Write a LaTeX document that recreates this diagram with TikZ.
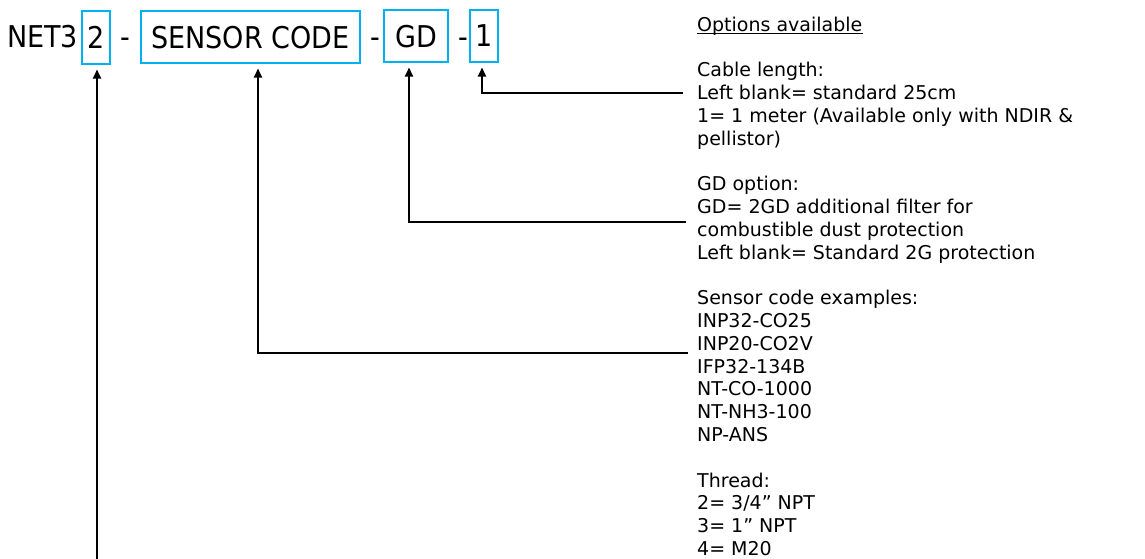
\documentclass[tikz,border=0pt]{standalone}
\usepackage{fontspec}
\setmainfont{DejaVu Sans}
\newfontfamily\bigfont{DejaVu Sans Condensed}
\usetikzlibrary{arrows.meta}
\definecolor{boxblue}{HTML}{00B0F0}
\tikzset{
  codebox/.style={draw=boxblue, line width=2pt, inner sep=0pt, font=\bigfont\fontsize{30}{34}\selectfont, text depth=0pt},
  bigtext/.style={inner sep=0pt, font=\bigfont\fontsize{30}{34}\selectfont, anchor=base west},
  dashtext/.style={inner sep=0pt, font=\bigfont\fontsize{30}{34}\selectfont, anchor=base},
  info/.style={inner sep=0pt, anchor=base west, font=\fontsize{19}{22.8}\selectfont},
  conn/.style={draw=black, line width=1.8pt, -{Triangle[length=9pt,width=8pt]}, shorten >=4.5pt}
}
\begin{document}
\begin{tikzpicture}[x=1pt,y=-1pt]
\useasboundingbox[fill=white] (0,0) rectangle (1145,558);
% code line
\node[bigtext] (net) at (7,47) {NET3};
\node[codebox, minimum width=28pt, minimum height=53pt] (thr) at (96,37.5) {2};
\node[dashtext] (d1) at (125.5,47) {-};
\node[codebox, minimum width=219pt, minimum height=52pt] (sc) at (250.5,37) {SENSOR CODE};
\node[dashtext] (d2) at (375,47) {-};
\node[codebox, minimum width=64pt, minimum height=52pt] (gd) at (416,36) {GD\hspace{8pt}};
\node[dashtext] (d3) at (463,47) {-};
\node[codebox, minimum width=28pt, minimum height=52pt] (cl) at (484,36) {1};
% info texts, one node per line
\foreach \txt [count=\i from 0] in {
  {Options available}, {},
  {Cable length:}, {Left blank= standard 25cm}, {1= 1 meter (Available only with NDIR \&}, {pellistor)}, {},
  {GD option:}, {GD= 2GD additional filter for}, {combustible dust protection}, {Left blank= Standard 2G protection}, {},
  {Sensor code examples:}, {INP32-CO25}, {INP20-CO2V}, {IFP32-134B}, {NT-CO-1000}, {NT-NH3-100}, {NP-ANS}, {},
  {Thread:}, {2= 3/4” NPT}, {3= 1” NPT}, {4= M20}}
  \node[info] (L\i) at (697,{31+22.8*\i}) {\txt};
\draw[line width=0.9pt] ([yshift=-2pt]L0.base west) -- ([yshift=-2pt]L0.base east);
% connectors
\coordinate (ccab) at (683,93);
\coordinate (cgd) at (686,222);
\coordinate (csc) at (688,353);
\coordinate (cthr) at (97,560);
\draw[conn] (ccab) -| ([xshift=-2pt]cl.south);
\draw[conn] (cgd) -| ([xshift=-7pt]gd.south);
\draw[conn] (csc) -| ([xshift=7.5pt]sc.south);
\draw[conn] (cthr) -- (cthr |- thr.south);
\end{tikzpicture}
\end{document}
